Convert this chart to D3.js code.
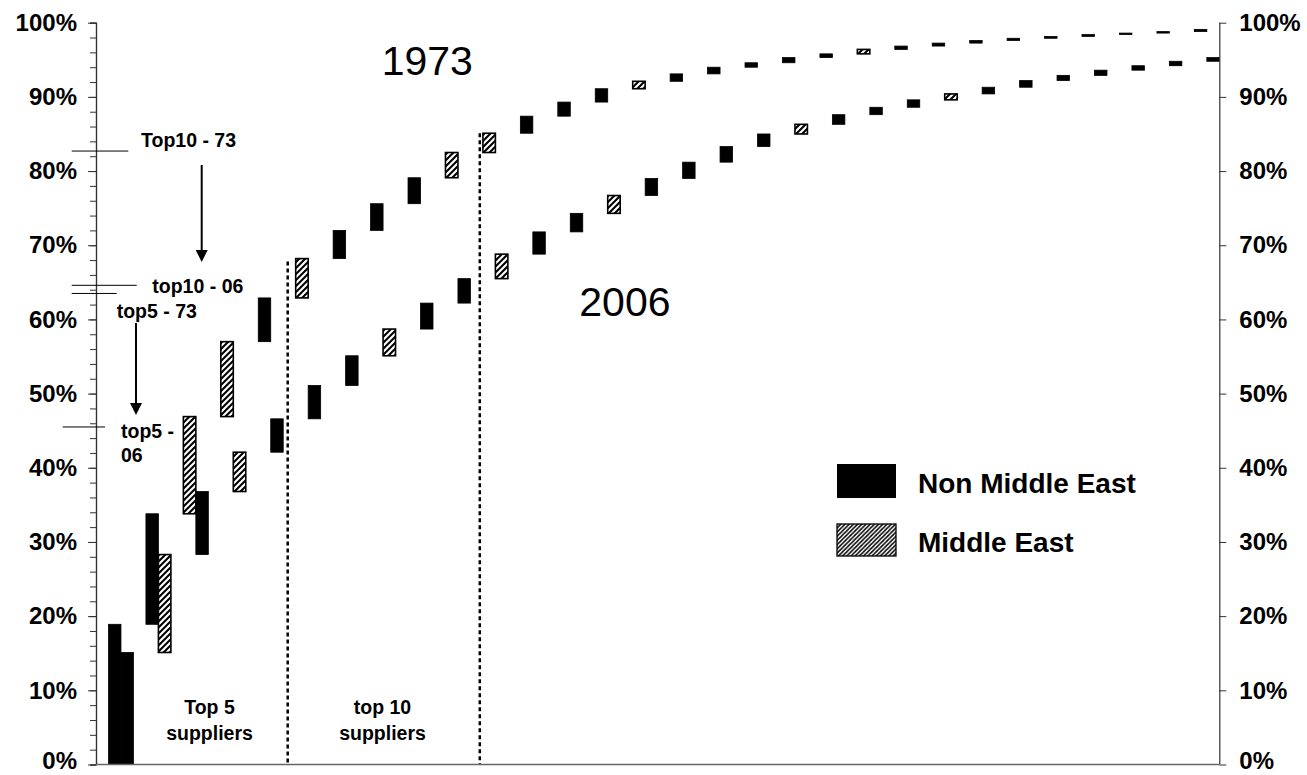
<!DOCTYPE html>
<html>
<head>
<meta charset="utf-8">
<script src="https://cdn.jsdelivr.net/npm/d3@7"></script>
<style>
  html, body { margin: 0; padding: 0; background: #fff; }
  svg { display: block; font-family: "Liberation Sans", Arial, Helvetica, sans-serif; }
</style>
</head>
<body>
<svg id="chart" width="1307" height="775"></svg>
<script>
// ---- data ----
const ranks = d3.range(1, 31);               // supplier rank 1..30
const years = ["1973", "2006"];
// cumulative share (%) of imports, by supplier rank
const cum1973 = [18.9, 33.8, 46.9, 57.0, 62.9, 68.2, 72.0, 75.6, 79.1, 82.5,
                 85.1, 87.4, 89.3, 91.1, 92.1, 93.1, 94.0, 94.6, 95.3, 95.8,
                 96.4, 96.85, 97.25, 97.6, 97.9, 98.15, 98.4, 98.6, 98.8, 99.1];
const cum2006 = [15.1, 28.3, 36.8, 42.1, 46.6, 51.1, 55.1, 58.7, 62.2, 65.5,
                 68.8, 71.8, 74.3, 76.7, 79.0, 81.2, 83.3, 85.0, 86.3, 87.6,
                 88.6, 89.6, 90.4, 91.3, 92.2, 92.9, 93.6, 94.2, 94.8, 95.3];
// 1 = Middle East supplier, 0 = non Middle East
const me1973 = [0,0,1,1,0,1,0,0,0,1, 1,0,0,0,1,0,0,0,0,0, 1,0,0,0,0,0,0,0,0,0];
const me2006 = [0,1,0,1,0,0,0,1,0,0, 1,0,0,1,0,0,0,0,1,0, 0,0,1,0,0,0,0,0,0,0];
const yTicks = [0,10,20,30,40,50,60,70,80,90,100];
const legendLabels = ["Non Middle East", "Middle East"];
const markerLevels = [82.7, 64.6, 63.5, 45.5];   // thin reference lines at left axis
const dividers = [{pos: 5.12, top: 67.8}, {pos: 10.25, top: 85.1}];

// ---- layout ----
const svg = d3.select("#chart");
const X0 = 96, X1 = 1219.3, Y0 = 764.5, Y1 = 22.7;
const y = d3.scaleLinear().domain([0, 100]).range([Y0, Y1]);
const x = d3.scaleBand().domain(ranks).range([X0, X1]).padding(0);
const sub = d3.scaleBand().domain(["gap", ...years]).range([0, x.bandwidth()]).padding(0);
const xPos = d3.scaleLinear().domain([0, ranks.length]).range([X0, X1]);

// hatch patterns
const defs = svg.append("defs");
function hatch(id, s, w) {
  const p = defs.append("pattern").attr("id", id).attr("patternUnits", "userSpaceOnUse")
    .attr("width", s).attr("height", s);
  p.append("rect").attr("width", s).attr("height", s).attr("fill", "#fff");
  p.append("path").attr("d", `M${-s/2},${s/2} L${s/2},${-s/2} M0,${s} L${s},0 M${s/2},${s*1.5} L${s*1.5},${s/2}`)
    .attr("stroke", "#000").attr("stroke-width", w);
}
hatch("hatchBar", 6, 2.1);
hatch("hatchLeg", 4.2, 1.5);

// ---- bars ----
const series = [
  {year: "1973", cum: cum1973, me: me1973},
  {year: "2006", cum: cum2006, me: me2006}
];
series.forEach(s => {
  const rows = ranks.map((r, i) => ({
    rank: r, lo: i === 0 ? 0 : s.cum[i - 1], hi: s.cum[i], me: s.me[i]
  }));
  svg.append("g").selectAll("rect").data(rows).join("rect")
    .attr("x", d => x(d.rank) + sub(s.year))
    .attr("width", sub.bandwidth())
    .attr("y", d => y(d.hi))
    .attr("height", d => y(d.lo) - y(d.hi))
    .attr("fill", d => d.me ? "url(#hatchBar)" : "#000")
    .attr("stroke", "#000")
    .attr("stroke-width", d => d.me ? 1.6 : 0.8);
});

// ---- dashed dividers ----
svg.append("g").selectAll("line").data(dividers).join("line")
  .attr("x1", d => xPos(d.pos)).attr("x2", d => xPos(d.pos))
  .attr("y1", d => y(d.top)).attr("y2", y(0))
  .attr("stroke", "#000").attr("stroke-width", 2.5).attr("stroke-dasharray", "4,3");

// ---- axes ----
const axisColor = "#333";
const leftMinor = d3.axisLeft(y).tickValues(d3.range(0, 101, 2)).tickSize(6).tickFormat("");
const gMinor = svg.append("g").attr("transform", `translate(${X0},0)`).call(leftMinor);
const left = d3.axisLeft(y).tickValues(yTicks).tickSize(8).tickPadding(11).tickFormat(d => d + "%");
const gL = svg.append("g").attr("transform", `translate(${X0},0)`).call(left);
const right = d3.axisRight(y).tickValues(yTicks).tickSize(7).tickPadding(13).tickFormat(d => d + "%");
const gR = svg.append("g").attr("transform", `translate(${X1},0)`).call(right);
[gMinor, gL, gR].forEach(g => {
  g.select(".domain").attr("stroke", axisColor).attr("stroke-width", 1.2);
  g.selectAll(".tick line").attr("stroke", axisColor).attr("stroke-width", 1);
  g.selectAll(".tick text").attr("fill", "#000").attr("font-size", 24).attr("font-weight", "bold")
    .attr("font-family", "'Liberation Sans', Arial, sans-serif")
    .attr("dy", d => d === 0 ? "0.18em" : "0.32em");
});
gL.select(".domain").attr("d", `M0.5,${Y0}V${Y1}`);
gR.select(".domain").attr("d", `M0.5,${Y0}V${Y1}`);
svg.append("line").attr("x1", X0).attr("x2", X1).attr("y1", Y0).attr("y2", Y0)
  .attr("stroke", "#666").attr("stroke-width", 1.5);

// ---- reference lines at left axis ----
const refSpans = [[71.7, 128.3], [71.7, 136.7], [71.7, 116.7], [62.7, 105]];
svg.append("g").selectAll("line").data(markerLevels).join("line")
  .attr("x1", (d, i) => refSpans[i][0]).attr("x2", (d, i) => refSpans[i][1])
  .attr("y1", d => y(d)).attr("y2", d => y(d))
  .attr("stroke", "#000").attr("stroke-width", 1);

// ---- arrows ----
function arrow(xx, yTop, yTip) {
  svg.append("line").attr("x1", xx).attr("x2", xx).attr("y1", yTop).attr("y2", yTip - 10)
    .attr("stroke", "#000").attr("stroke-width", 2);
  svg.append("path").attr("d", `M${xx - 6},${yTip - 12} L${xx + 6},${yTip - 12} L${xx},${yTip} Z`).attr("fill", "#000");
}
arrow(201.7, 165, 262);
arrow(136, 323, 415);

// ---- annotation texts ----
const ann = [
  {t: "Top10 - 73", x: 141, y: 146.7},
  {t: "top10 - 06", x: 152.3, y: 293},
  {t: "top5 - 73", x: 116.7, y: 318.3},
  {t: "top5 -", x: 121, y: 437.7},
  {t: "06", x: 121, y: 461.7}
];
svg.append("g").selectAll("text").data(ann).join("text")
  .attr("x", d => d.x).attr("y", d => d.y).text(d => d.t)
  .attr("font-size", 19.5).attr("font-weight", "bold");

const grp = [
  {t: "Top 5", x: 209.5, y: 714}, {t: "suppliers", x: 209.5, y: 740},
  {t: "top 10", x: 382.5, y: 714}, {t: "suppliers", x: 382.5, y: 740}
];
svg.append("g").selectAll("text").data(grp).join("text")
  .attr("x", d => d.x).attr("y", d => d.y).text(d => d.t)
  .attr("text-anchor", "middle").attr("font-size", 19.5).attr("font-weight", "bold");

svg.append("text").attr("x", 381.7).attr("y", 75).text(years[0]).attr("font-size", 41);
svg.append("text").attr("x", 579.3).attr("y", 316).text(years[1]).attr("font-size", 41);

// ---- legend ----
const leg = svg.append("g");
leg.append("rect").attr("x", 837).attr("y", 464).attr("width", 59).attr("height", 34).attr("fill", "#000");
leg.append("rect").attr("x", 837).attr("y", 524).attr("width", 59).attr("height", 32)
  .attr("fill", "url(#hatchLeg)").attr("stroke", "#000").attr("stroke-width", 1.3);
leg.append("text").attr("x", 918).attr("y", 493.3).text(legendLabels[0]).attr("font-size", 28).attr("font-weight", "bold");
leg.append("text").attr("x", 918).attr("y", 552.3).text(legendLabels[1]).attr("font-size", 28).attr("font-weight", "bold");
</script>
</body>
</html>
